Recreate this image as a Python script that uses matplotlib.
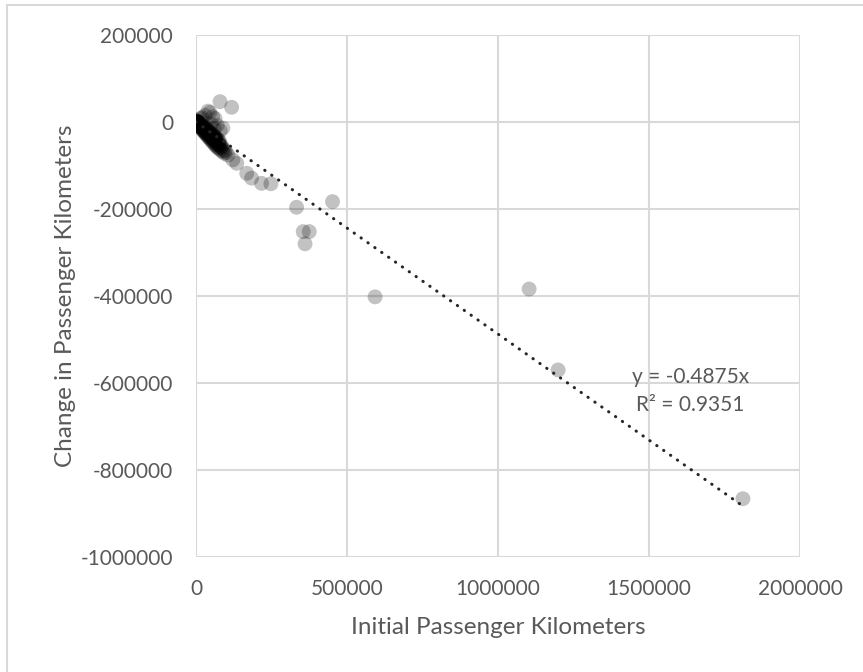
import matplotlib
matplotlib.use("Agg")
import matplotlib.pyplot as plt
from matplotlib.lines import Line2D
import numpy as np

plt.rcParams['font.family'] = ['Lato', 'DejaVu Sans']

# Initial passenger km (x) and change in passenger km (y)
outlier_x = [1811000, 1199000, 1103000, 593000, 452000, 333000, 355000, 375000, 361000,
             248000, 217000, 184000, 168000, 135000, 122000, 79500, 118000]
outlier_y = [-866000, -570000, -384000, -402000, -183000, -196000, -252000, -252000, -280000,
             -142000, -141000, -129000, -118000, -95000, -87000, 46700, 33800]

core_x = [0, 500, 1000, 1500, 2000, 2500, 3000, 3500, 4000, 4500, 5000, 5500, 6000, 6500,
          7000, 7500, 8000, 8500, 9000, 9500, 10000, 11000, 12000, 13000, 14000, 15000,
          16000, 17000, 18000, 19000, 20000, 1200, 2200, 3200, 4200, 5200, 6200, 7200,
          8200, 9200]
core_y = [1000, -200, 3000, -1500, 500, -2500, 2000, -3500, -1000, 1500, -4000, -500,
          -5000, 2500, -3000, -6000, -1000, -7000, -4000, -2000, -7000, -5000, -9000,
          -6000, -10000, -8000, -12000, -9000, -13000, -11000, -14000, -800, -2000, 200,
          -3000, -1500, -4500, -2500, -6000, -3500]

band_x = [22000, 24000, 26000, 28000, 30000, 32000, 34000, 36000, 38000, 40000, 42000,
          44000, 46000, 48000, 50000, 52000, 54000, 56000, 58000, 60000, 62000, 64000,
          66000, 68000, 70000, 72000, 75000, 78000, 80000, 83000, 86000, 90000, 95000,
          100000, 106000, 25000, 35000, 45000, 55000, 65000]
band_y = [-14000, -18000, -15000, -22000, -18000, -24000, -20000, -27000, -24000, -30000,
          -26000, -32000, -29000, -35000, -31000, -38000, -34000, -40000, -37000, -43000,
          -40000, -46000, -42000, -49000, -45000, -52000, -49000, -55000, -52000, -58000,
          -56000, -62000, -66000, -70000, -76000, -10000, -15000, -22000, -28000, -36000]

upper_x = [10000, 14000, 18000, 22000, 26000, 30000, 34000, 38000, 42000, 46000, 50000,
           54000, 58000, 62000, 66000, 70000, 74000, 78000]
upper_y = [-3000, -4000, -7000, -9000, -12000, -14000, -17000, -19000, -22000, -24000,
           -27000, -29000, -32000, -34000, -37000, -39000, -42000, -44000]

lower_x = [12000, 16000, 20000, 24000, 28000, 32000, 36000, 40000, 44000, 48000, 52000,
           56000, 60000, 64000, 68000, 72000, 76000, 82000, 88000, 94000]
lower_y = [-10000, -13000, -17000, -20000, -24000, -27000, -30000, -34000, -37000, -40000,
           -44000, -46000, -50000, -53000, -56000, -59000, -61000, -65000, -68000, -72000]

halo_x = [30000, 40000, 46000, 55000, 63000, 20000, 50000, 70000, 89000, 80000, 60000, 15000]
halo_y = [15000, 25000, 22000, 12000, 8000, 10000, -5000, -8000, -14000, -20000, -15000, 8000]

x_all = outlier_x + core_x + band_x + upper_x + lower_x + halo_x
y_all = outlier_y + core_y + band_y + upper_y + lower_y + halo_y

slope = -0.4875
r2 = 0.9351

x_ticks = [0, 500000, 1000000, 1500000, 2000000]
y_ticks = [-1000000, -800000, -600000, -400000, -200000, 0, 200000]

fig = plt.figure(figsize=(8.63, 6.72), dpi=100)
ax = fig.add_axes([196/863, 1-557/672, (800-196)/863, (557-35)/672])

ax.scatter(x_all, y_all, s=115, color='black', alpha=0.24, edgecolors='none', zorder=3)

xt = np.array([0, max(x_all)])
ax.plot(xt, slope*xt, color='#262626', linewidth=2.2, linestyle=(0, (0.1, 2.65)),
        dash_capstyle='round', zorder=4)

ax.set_xlim(0, 2000000)
ax.set_ylim(-1000000, 200000)
ax.set_xticks(x_ticks)
ax.set_yticks(y_ticks)
ax.set_xticklabels([str(v) for v in x_ticks])
ax.set_yticklabels([str(v) for v in y_ticks])
ax.grid(True, color='#D9D9D9', linewidth=1.5, zorder=0)
ax.set_axisbelow(True)
for s in ax.spines.values():
    s.set_visible(False)
ax.tick_params(length=0, labelsize=15, labelcolor='#595959')
ax.tick_params(axis='y', pad=16.5)
ax.tick_params(axis='x', pad=16)

ax.set_xlabel('Initial Passenger Kilometers', fontsize=17.5, color='#595959', labelpad=13)
ax.set_ylabel('Change in Passenger Kilometers', fontsize=17.5, color='#595959', labelpad=3)

ax.text(0.818, 0.318, f'y = {slope}x\nR² = {r2}', transform=ax.transAxes,
        ha='center', va='center', fontsize=15, color='#595959', linespacing=1.55)

fig.add_artist(Line2D([7/863, 7/863], [0, 1-5/672], color='#D9D9D9', linewidth=1.5))
fig.add_artist(Line2D([7/863, 1], [1-5/672, 1-5/672], color='#D9D9D9', linewidth=1.5))

fig.savefig('out.png', dpi=100)
